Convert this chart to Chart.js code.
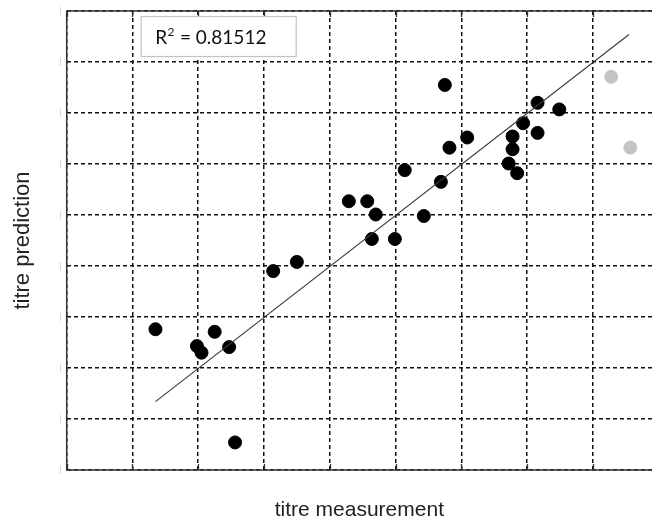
<!DOCTYPE html>
<html>
<head>
<meta charset="utf-8">
<script src="https://cdn.jsdelivr.net/npm/chart.js@4.4.0/dist/chart.umd.min.js"></script>
<style>
  html, body { margin: 0; padding: 0; background: #fff; overflow: hidden; }
</style>
</head>
<body>
<canvas id="myChart" width="652" height="521"></canvas>
<script>
// measured vs predicted titre (grid units, axes carry no labels)
var measX = [1.35, 1.98, 2.05, 2.25, 2.47, 2.56, 3.14, 3.50, 4.29, 4.57, 4.70, 4.64, 4.99, 5.14,
             5.43, 5.69, 5.75, 5.82, 6.09, 6.72, 6.78, 6.78, 6.85, 6.94, 7.16, 7.16, 7.49];
var predY = [2.76, 2.43, 2.30, 2.71, 2.41, 0.54, 3.90, 4.08, 5.27, 5.27, 5.01, 4.53, 4.53, 5.88,
             4.98, 5.65, 7.55, 6.32, 6.52, 6.01, 6.29, 6.54, 5.82, 6.80, 7.20, 6.61, 7.07];
// excluded points (grey)
var outX = [8.28, 8.57];
var outY = [7.71, 6.32];
// fitted line end points
var fitX = [1.35, 8.55];
var fitY = [1.34, 8.54];
var xTicks = [0, 1, 2, 3, 4, 5, 6, 7, 8];
var yTicks = [0, 1, 2, 3, 4, 5, 6, 7, 8, 9];
var r2Text = "0.81512";

function toPts(xs, ys) {
  return xs.map(function (x, i) { return { x: x, y: ys[i] }; });
}

// frame, inner ticks, faint left marks and the R² box
var extras = {
  id: 'extras',
  afterDraw: function (chart) {
    var ctx = chart.ctx, a = chart.chartArea;
    var xs = chart.scales.x, ys = chart.scales.y;
    ctx.save();
    ctx.strokeStyle = '#333';
    ctx.lineWidth = 1.5;
    ctx.beginPath();
    ctx.moveTo(a.right + 2, a.top); ctx.lineTo(a.left, a.top);
    ctx.lineTo(a.left, a.bottom); ctx.lineTo(a.right + 2, a.bottom);
    ctx.stroke();

    ctx.lineWidth = 1.3;
    xTicks.forEach(function (t) {
      var px = Math.round(xs.getPixelForValue(t)) + 0.5;
      ctx.beginPath();
      ctx.moveTo(px, a.bottom); ctx.lineTo(px, a.bottom - 6);
      ctx.moveTo(px, a.top); ctx.lineTo(px, a.top + 6);
      ctx.stroke();
    });

    ctx.strokeStyle = '#b9e0f5';
    ctx.lineWidth = 1;
    yTicks.forEach(function (t) {
      var py = ys.getPixelForValue(t);
      ctx.beginPath();
      ctx.moveTo(60.5, py - 4); ctx.lineTo(60.5, py + 4);
      ctx.stroke();
    });

    // R² box
    var bx = a.left + 74.5, by = a.top + 5.5;
    ctx.fillStyle = '#fff';
    ctx.fillRect(bx, by, 155, 40);
    ctx.strokeStyle = '#c4c4c4';
    ctx.lineWidth = 1.2;
    ctx.strokeRect(bx, by, 155, 40);
    ctx.fillStyle = '#111';
    ctx.textBaseline = 'alphabetic';
    ctx.font = '19px Lato';
    ctx.fillText('R', bx + 14, by + 27);
    var w = ctx.measureText('R').width;
    ctx.font = '12px Lato';
    ctx.fillText('2', bx + 14 + w + 0.5, by + 19);
    var w2 = ctx.measureText('2').width;
    ctx.font = '19px Lato';
    ctx.fillText(' = ' + r2Text, bx + 14 + w + w2 + 1, by + 27);
    ctx.restore();
  }
};

var myChart = document.getElementById('myChart').getContext('2d');

var chart = new Chart(myChart, {
  type: 'scatter',
  data: {
    datasets: [
      {
        type: 'line',
        data: toPts(fitX, fitY),
        borderColor: '#3a3a3a',
        borderWidth: 1.1,
        pointRadius: 0,
        fill: false
      },
      {
        data: toPts(measX, predY),
        backgroundColor: '#000',
        borderColor: '#000',
        pointRadius: 6.5,
        pointHoverRadius: 6.5
      },
      {
        data: toPts(outX, outY),
        backgroundColor: '#c4c4c4',
        borderColor: '#c4c4c4',
        pointRadius: 6.5,
        pointHoverRadius: 6.5
      }
    ]
  },
  options: {
    responsive: false,
    animation: false,
    layout: { autoPadding: false, padding: { top: 11, right: 0, left: 0, bottom: 0 } },
    plugins: { legend: { display: false }, tooltip: { enabled: false } },
    scales: {
      x: {
        type: 'linear',
        min: 0, max: 8.9,
        afterBuildTicks: function (s) { s.ticks = xTicks.map(function (v) { return { value: v }; }); },
        afterFit: function (s) { s.height = 51; },
        ticks: { display: false },
        border: { display: false, dash: [4, 3] },
        grid: { color: '#111', lineWidth: 1.5, drawTicks: false },
        title: {
          display: true,
          text: 'titre measurement',
          color: '#222',
          font: { family: 'Liberation Sans', size: 21, lineHeight: 1 },
          padding: { top: 0, bottom: 0 }
        }
      },
      y: {
        type: 'linear',
        min: 0, max: 9,
        afterBuildTicks: function (s) { s.ticks = yTicks.map(function (v) { return { value: v }; }); },
        afterFit: function (s) { s.width = 66.7; },
        ticks: { display: false },
        border: { display: false, dash: [4, 3] },
        grid: { color: '#111', lineWidth: 1.5, drawTicks: false },
        title: {
          display: true,
          text: 'titre prediction',
          color: '#222',
          font: { family: 'Liberation Sans', size: 22, lineHeight: 1 },
          padding: { top: 12, bottom: 0 }
        }
      }
    }
  },
  plugins: [extras]
});
</script>
</body>
</html>
